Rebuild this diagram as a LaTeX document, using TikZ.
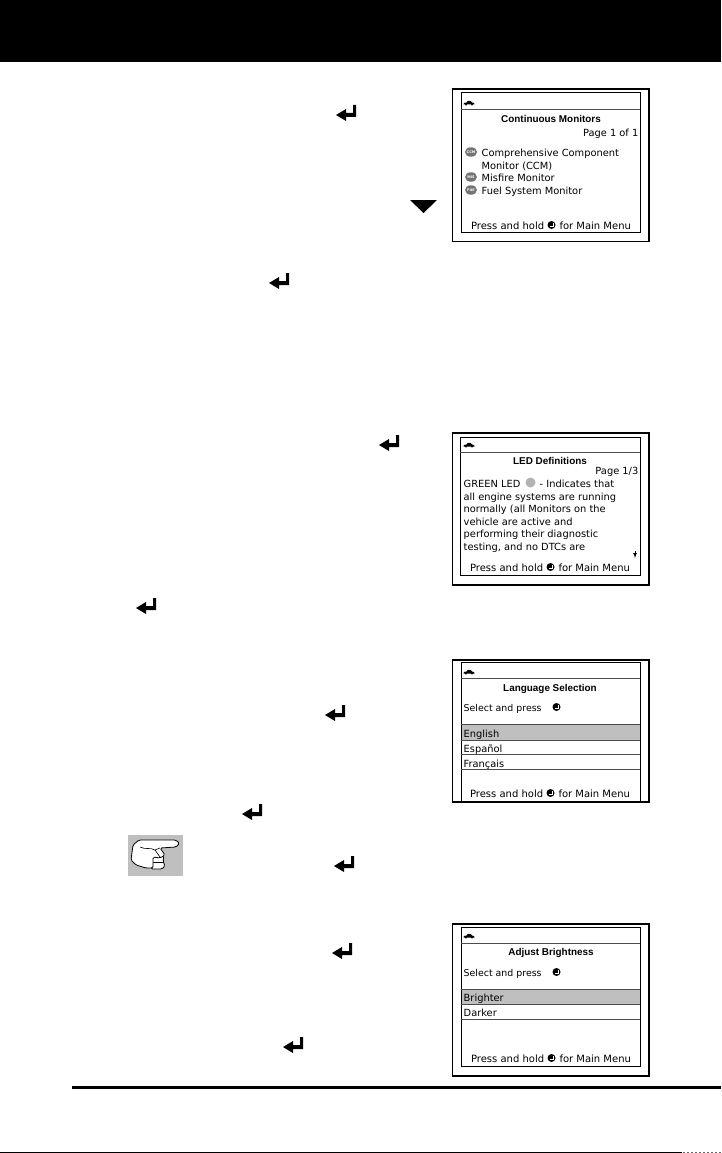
\documentclass[tikz,border=0pt]{standalone}
\usepackage{fontspec}
\setmainfont{DejaVu Sans}
\newfontfamily\titlefont{Liberation Sans}
\usetikzlibrary{shapes.geometric}
\tikzset{
    outerframe/.style={draw, line width=1.6pt},
    innerframe/.style={draw, line width=0.7pt},
    rowline/.style={draw=black!70, line width=0.6pt},
    lcdtext/.style={inner sep=0pt, anchor=base west, font=\fontsize{9.85}{11}\selectfont},
    lcdprompt/.style={inner sep=0pt, anchor=base west, font=\fontsize{9.4}{11}\selectfont},
    lcdtitle/.style={inner sep=0pt, anchor=base, font=\titlefont\bfseries\fontsize{9.9}{11}\selectfont},
    lcdfoot/.style={inner sep=0pt, anchor=base, font=\fontsize{10}{11}\selectfont},
    badge/.style={ellipse, fill=black!55, inner sep=0pt, minimum width=12pt, minimum height=9.5pt, text=white, font=\bfseries\fontsize{3.5}{4}\selectfont},
    retkey/.pic={
        \fill (-10,2) -- (0,-4) -- (0,0) -- (7,0) -- (7,-8) -- (10,-8) -- (10,4) -- (0,4) -- (0,8) -- cycle;
    },
    okdot/.pic={
        \fill (0,0) circle (4);
        \draw[white, line width=0.8pt] (-2,1) -- (1.6,1) -- (1.6,-1.6);
    },
    cartop/.pic={
        \fill (-5.5,1.5) -- (-5,0) -- (-2.5,-0.5) -- (-1.2,-2.2) -- (1.5,-2.2) -- (3,-0.5) -- (5,0) -- (5.5,1.5) -- cycle;
        \fill (-3,1.6) circle (1) (3,1.6) circle (1);
    },
}
\begin{document}
\begin{tikzpicture}[>=latex, x=1pt, y=-1pt]
    \useasboundingbox (0,0) rectangle (721,1153);
    % header and rules
    \fill (0,0) rectangle (721,62);
    \fill (72,1085.5) rectangle (721,1089);
    \draw[line width=0.7pt] (0,1152.3) -- (682,1152.3);
    \draw[black!60, line width=0.7pt, dash pattern=on 1.5pt off 2.5pt] (683,1152.3) -- (721,1152.3);
    % return keys in the text
    \pic at (346,113) {retkey};
    \pic at (279,281) {retkey};
    \pic at (389,443) {retkey};
    \pic at (146,606) {retkey};
    \pic at (335,713) {retkey};
    \pic at (252,812) {retkey};
    \pic at (344,864) {retkey};
    \pic at (342,951) {retkey};
    \pic at (293,1045) {retkey};
    \fill (410,200) -- (437,200) -- (423.5,213) -- cycle;
    % note hand
    \fill[black!25] (128,835) rectangle (183,876);
    \draw[fill=white, line width=0.8pt, rounded corners=1.5pt] (152,855) -- (151,869) -- (162,869) -- (165,866) -- (163,861) -- (164,856) -- cycle;
    \draw[line width=0.7pt] (153,862) -- (163,862);
    \draw[fill=white, line width=0.8pt, rounded corners=1.5pt] (133,845) -- (139,840) -- (176,840) -- (179.5,843.5) -- (176,847)
        -- (160,848) -- (165,855) -- (160,858) -- (153,857) -- (153,868) -- (146,868) -- (136,865) -- (131,860) -- cycle;
    \draw[line width=0.6pt] (140,847) .. controls (146,850) and (150,847) .. (155,850) -- (160,857);
    \draw[line width=0.6pt] (155,850) -- (160,848);
    % screen 1
    \draw[outerframe] (452.5,89) rectangle (649,241.5);
    \draw[innerframe] (461,92) rectangle (640,232);
    \draw[rowline] (461,109) -- (640,109);
    \pic at (469,103) {cartop};
    \node[lcdtitle] (monTitle) at (551,122) {Continuous Monitors};
    \node[lcdtext, anchor=base east] (monPage) at (638.5,136) {Page 1 of 1};
    \node[badge] (ccmIcon) at (471,152) {CCM};
    \node[lcdtext] (ccmOne) at (481.5,156) {Comprehensive Component};
    \node[lcdtext] (ccmTwo) at (481.5,169) {Monitor (CCM)};
    \node[badge] (misIcon) at (471,177) {MIS};
    \node[lcdtext] (misText) at (481.5,181) {Misfire Monitor};
    \node[badge] (fueIcon) at (471,190) {FUE};
    \node[lcdtext] (fueText) at (481.5,194) {Fuel System Monitor};
    \node[lcdfoot] (monFoot) at (551,229) {Press and hold \hspace{9pt} for Main Menu};
    \pic at (551.5,225) {okdot};
    % screen 2
    \draw[outerframe] (452.5,433) rectangle (649,585);
    \draw[innerframe] (460,437) rectangle (640,575);
    \draw[rowline] (460,452) -- (640,452);
    \pic at (469,445) {cartop};
    \node[lcdtitle] (ledTitle) at (550,464) {LED Definitions};
    \node[lcdtext, anchor=base east] (ledPage) at (638.5,474) {Page 1/3};
    \node[lcdtext] (ledOne) at (463.5,487) {GREEN LED \hspace{13pt} - Indicates that};
    \fill[black!30] (530.5,482.5) circle (5);
    \node[lcdtext] (ledTwo) at (463.5,500) {all engine systems are running};
    \node[lcdtext] (ledThree) at (463.5,512) {normally (all Monitors on the};
    \node[lcdtext] (ledFour) at (463.5,525) {vehicle are active and};
    \node[lcdtext] (ledFive) at (463.5,537) {performing their diagnostic};
    \node[lcdtext] (ledSix) at (463.5,550) {testing, and no DTCs are};
    \draw[->, line width=0.7pt] (635,551) -- (635,558);
    \node[lcdfoot] (ledFoot) at (550,571) {Press and hold \hspace{9pt} for Main Menu};
    \pic at (550.5,567) {okdot};
    % screen 3
    \fill[black!25] (461,724) rectangle (640,740);
    \draw[outerframe] (452.5,660) rectangle (649,802);
    \draw[innerframe] (461,662) rectangle (640,801);
    \draw[rowline] (461,678) -- (640,678);
    \draw[rowline] (461,724) -- (640,724) (461,740) -- (640,740) (461,754) -- (640,754) (461,769) -- (640,769);
    \pic at (469,672) {cartop};
    \node[lcdtitle] (langTitle) at (550,691) {Language Selection};
    \node[lcdprompt] (langPress) at (463.5,711) {Select and press};
    \pic at (556.5,707) {okdot};
    \node[lcdtext] (langOne) at (463.5,737) {English};
    \node[lcdtext] (langTwo) at (463.5,752) {Español};
    \node[lcdtext] (langThree) at (463.5,767) {Français};
    \node[lcdfoot] (langFoot) at (550,797) {Press and hold \hspace{9pt} for Main Menu};
    \pic at (550.5,793) {okdot};
    % screen 4
    \fill[black!25] (461,989) rectangle (640,1004);
    \draw[outerframe] (452.5,924) rectangle (649,1076);
    \draw[innerframe] (461,927) rectangle (640,1066);
    \draw[rowline] (461,943) -- (640,943);
    \draw[rowline] (461,989) -- (640,989) (461,1004) -- (640,1004) (461,1019) -- (640,1019);
    \pic at (469,936) {cartop};
    \node[lcdtitle] (briTitle) at (551,955) {Adjust Brightness};
    \node[lcdprompt] (briPress) at (463.5,976) {Select and press};
    \pic at (556.5,972) {okdot};
    \node[lcdtext] (briOne) at (463.5,1001.5) {Brighter};
    \node[lcdtext] (briTwo) at (463.5,1016.5) {Darker};
    \node[lcdfoot] (briFoot) at (551,1062) {Press and hold \hspace{9pt} for Main Menu};
    \pic at (551.5,1058) {okdot};
\end{tikzpicture}
\end{document}
